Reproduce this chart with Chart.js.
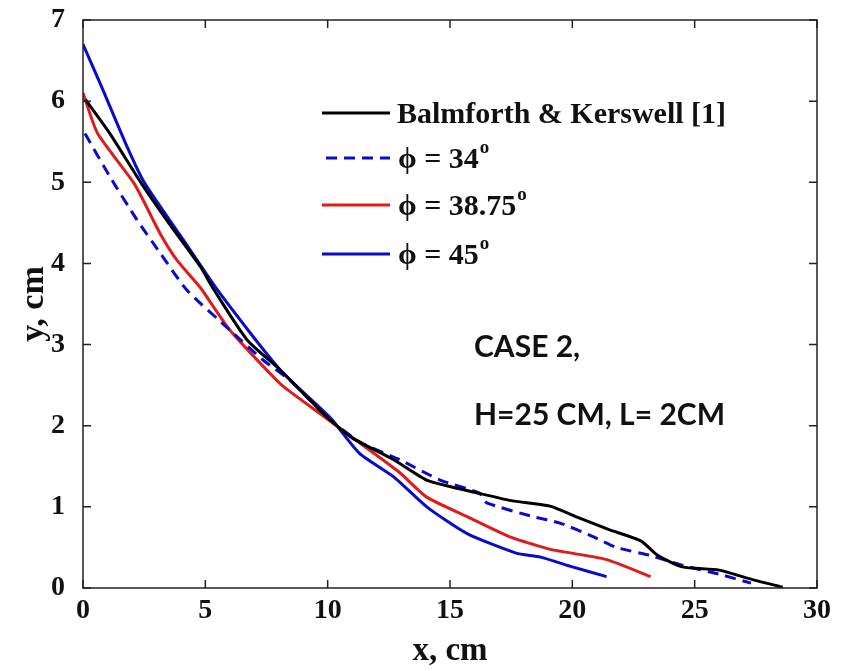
<!DOCTYPE html>
<html>
<head>
<meta charset="utf-8">
<script src="https://cdn.jsdelivr.net/npm/chart.js@4.4.1/dist/chart.umd.min.js"></script>
<style>
  html, body { margin: 0; padding: 0; background: #fff; }
  #wrap { width: 843px; height: 671px; }
</style>
</head>
<body>
<div id="wrap"><canvas id="myChart"></canvas></div>
<script>
// values (x in cm, y in cm)
let seriesNames = ["Balmforth & Kerswell [1]", "\u03d5 = 34", "\u03d5 = 38.75", "\u03d5 = 45"];

let bkX = [0.1, 1.1, 2.4, 3.5, 4.8, 5.3, 6.7, 8.05, 9, 10, 11, 12.7, 14.05, 15, 16, 17.45, 18.7, 19.2, 20.3, 21.5, 22.8, 23.5, 24.5, 26, 27.4, 28.6];
let bkY = [6.02, 5.6, 4.98, 4.5, 3.96, 3.7, 3.06, 2.69, 2.4, 2.1, 1.85, 1.58, 1.33, 1.25, 1.18, 1.08, 1.03, 1.0, 0.86, 0.72, 0.58, 0.4, 0.26, 0.22, 0.1, 0.01];

let p34X = [0.08, 1.1, 2.2, 3.15, 4.25, 6, 7.36, 8.5, 10, 11.3, 12.95, 14.6, 16.2, 16.5, 18.4, 19.5, 20.8, 21.8, 23.2, 24.5, 26, 27.3];
let p34Y = [5.6, 5.07, 4.54, 4.13, 3.67, 3.18, 2.81, 2.55, 2.1, 1.8, 1.58, 1.33, 1.17, 1.05, 0.88, 0.8, 0.64, 0.5, 0.4, 0.28, 0.17, 0.06];

let p38X = [0, 0.6, 2.1, 3.15, 3.84, 4.8, 6, 8.05, 9, 10, 11.3, 12.95, 14.05, 15.7, 17.45, 18.7, 19.2, 21.4, 23.2];
let p38Y = [6.1, 5.6, 4.98, 4.37, 4.04, 3.7, 3.18, 2.52, 2.3, 2.08, 1.79, 1.42, 1.12, 0.88, 0.63, 0.51, 0.47, 0.35, 0.14];

let p45X = [0, 0.7, 1.8, 2.5, 4.1, 5.6, 8.05, 10.1, 11.3, 12.7, 14.05, 15.7, 17.7, 18.7, 20, 21.4];
let p45Y = [6.7, 6.22, 5.44, 5.0, 4.29, 3.63, 2.69, 2.1, 1.66, 1.37, 1.0, 0.67, 0.43, 0.38, 0.26, 0.14];

let xTicks = [0, 5, 10, 15, 20, 25, 30];
let yTicks = [0, 1, 2, 3, 4, 5, 6, 7];

let lineColors = ["#000000", "#0a0ac8", "#e01b1b", "#0a0ac8"];

function toPoints(xs, ys) {
  let pts = [];
  for (let i = 0; i < xs.length; i++) pts.push({x: xs[i], y: ys[i]});
  return pts;
}

let serif = "'Liberation Serif', 'Times New Roman', serif";

// frame, inward ticks, legend and the note inside the plot
let framePlugin = {
  id: 'frame',
  afterDraw(chart) {
    let ctx = chart.ctx;
    let a = chart.chartArea;
    let xs = chart.scales.x, ys = chart.scales.y;
    ctx.save();
    ctx.strokeStyle = "#222";
    ctx.lineWidth = 1.5;
    ctx.strokeRect(a.left, a.top, a.right - a.left, a.bottom - a.top);
    ctx.beginPath();
    xTicks.forEach(function(v) {
      let px = xs.getPixelForValue(v);
      ctx.moveTo(px, a.bottom); ctx.lineTo(px, a.bottom - 8);
      ctx.moveTo(px, a.top); ctx.lineTo(px, a.top + 8);
    });
    yTicks.forEach(function(v) {
      let py = ys.getPixelForValue(v);
      ctx.moveTo(a.left, py); ctx.lineTo(a.left + 8, py);
      ctx.moveTo(a.right, py); ctx.lineTo(a.right - 8, py);
    });
    ctx.stroke();

    // legend
    let rows = [113, 158, 205, 254];
    let sups = ["", "o", "o", "o"];
    chart.data.datasets.forEach(function(ds, i) {
      ctx.strokeStyle = ds.borderColor;
      ctx.lineWidth = 3;
      ctx.setLineDash(ds.borderDash || []);
      ctx.beginPath();
      ctx.moveTo(i == 1 ? 326 : 322, rows[i]);
      ctx.lineTo(390, rows[i]);
      ctx.stroke();
      ctx.setLineDash([]);
      ctx.fillStyle = "#111";
      ctx.font = "bold 30px " + serif;
      ctx.textBaseline = "alphabetic";
      ctx.textAlign = "left";
      let tx = i == 0 ? 397 : 398;
      let base = rows[i] + 10;
      ctx.fillText(ds.label, tx, base);
      if (sups[i]) {
        let w = ctx.measureText(ds.label).width;
        ctx.font = "bold 19px " + serif;
        ctx.fillText(sups[i], tx + w + 1, base - 15);
      }
    });

    ctx.fillStyle = "#111";
    ctx.font = "bold 30px Lato, 'Open Sans', sans-serif";
    ctx.textAlign = "left";
    ctx.textBaseline = "alphabetic";
    ctx.fillText("CASE 2,", 474, 357);
    ctx.fillText("H=25 CM, L= 2CM", 474, 425);
    ctx.restore();
  }
};

new Chart("myChart", {
  type: "scatter",
  data: {
    datasets: [
      { label: seriesNames[0], data: toPoints(bkX, bkY), borderColor: lineColors[0] },
      { label: seriesNames[1], data: toPoints(p34X, p34Y), borderColor: lineColors[1], borderDash: [11, 7] },
      { label: seriesNames[2], data: toPoints(p38X, p38Y), borderColor: lineColors[2] },
      { label: seriesNames[3], data: toPoints(p45X, p45Y), borderColor: lineColors[3] }
    ].map(function(d) {
      d.showLine = true;
      d.borderWidth = 3;
      d.pointRadius = 0;
      d.tension = 0.2;
      d.fill = false;
      return d;
    })
  },
  options: {
    responsive: true,
    maintainAspectRatio: false,
    animation: false,
    events: [],
    layout: { padding: { top: 20, right: 26, left: 0, bottom: 0 } },
    plugins: { legend: { display: false }, tooltip: { enabled: false } },
    scales: {
      x: {
        type: "linear",
        min: 0, max: 30,
        afterFit: function(s) { s.height = 83; s.paddingLeft = 0; s.paddingRight = 0; },
        afterBuildTicks: function(s) { s.ticks = xTicks.map(function(v) { return {value: v}; }); },
        grid: { display: false },
        border: { display: false },
        ticks: { color: "#111", padding: -2, font: { family: serif, size: 28, weight: "bold" } },
        title: { display: true, text: "x, cm", color: "#111", padding: { top: 0, bottom: 0 }, font: { family: serif, size: 33, weight: "bold" } }
      },
      y: {
        type: "linear",
        min: 0, max: 7,
        afterFit: function(s) { s.width = 83; s.paddingTop = 0; s.paddingBottom = 0; },
        afterBuildTicks: function(s) { s.ticks = yTicks.map(function(v) { return {value: v}; }); },
        grid: { display: false },
        border: { display: false },
        ticks: { color: "#111", padding: 10, font: { family: serif, size: 28, weight: "bold" } },
        title: { display: true, text: "y, cm", color: "#111", padding: { top: 14, bottom: 0 }, font: { family: serif, size: 34, weight: "bold" } }
      }
    }
  },
  plugins: [framePlugin]
});
</script>
</body>
</html>
